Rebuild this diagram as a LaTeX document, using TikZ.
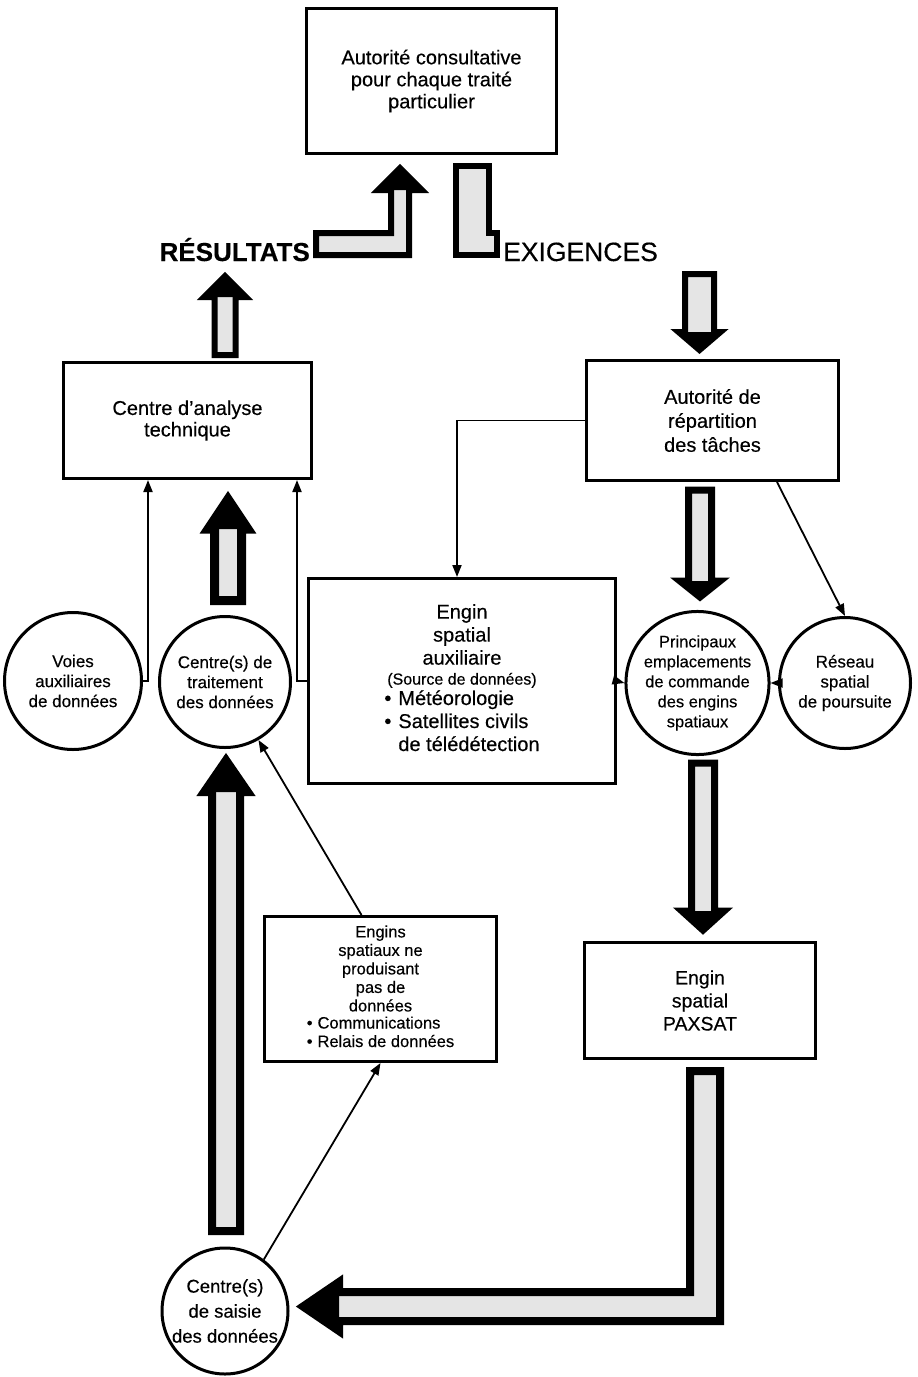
\documentclass[tikz,border=0pt]{standalone}
\usepackage{fontspec}
\setmainfont{Liberation Sans}[FakeBold=0.35]
\usetikzlibrary{arrows.meta,calc}
\tikzset{
  box/.style={draw, line width=3pt, rectangle, inner sep=0pt, align=center},
  circ/.style={draw, line width=3pt, circle, inner sep=0pt, align=center},
  conn/.style={line width=1.8pt, -{Triangle[length=12pt,width=9pt]}},
  blk/.style={draw=black, fill=black!10, line join=miter, miter limit=20},
}
% vertical block arrow: start, tip, shaft half width, head half width, head length, line width
\newcommand\blockv[6]{%
  \draw[blk, line width=#6] let \p1=(#1), \p2=(#2), \n1={ifthenelse(\y2>\y1,1,-1)} in
    ({\x1-#3},\y1) -- ({\x1-#3},{\y2-\n1*#5}) -- ({\x1-#4},{\y2-\n1*#5}) -- (\x1,\y2)
    -- ({\x1+#4},{\y2-\n1*#5}) -- ({\x1+#3},{\y2-\n1*#5}) -- ({\x1+#3},\y1) -- cycle;
  \fill let \p1=(#1), \p2=(#2), \n1={ifthenelse(\y2>\y1,1,-1)} in
    ({\x1-#4},{\y2-\n1*#5}) -- (\x1,\y2) -- ({\x1+#4},{\y2-\n1*#5}) -- cycle;}
\begin{document}
\begin{tikzpicture}[x=1pt,y=-1pt]
\useasboundingbox (0,0) rectangle (918,1377);

% boxes
\node[box, minimum width=250pt, minimum height=145pt, font=\fontsize{20}{22}\selectfont] (top) at (431.5,81) {Autorité consultative\\pour chaque traité\\particulier};
\node[box, minimum width=248pt, minimum height=116pt, font=\fontsize{20}{21.5}\selectfont] (ana) at (187.5,420.5) {Centre d’analyse\\technique};
\node[box, minimum width=252pt, minimum height=120pt, font=\fontsize{20}{24}\selectfont] (rep) at (712.5,420.5) {Autorité de\\répartition\\des tâches};
\node[box, minimum width=307pt, minimum height=205pt, font=\fontsize{20}{23}\selectfont] (eng) at (462,681)
  {Engin\\spatial\\auxiliaire\\[-3pt]{\fontsize{16}{20}\selectfont (Source de données)}\\
   \begin{tabular}{@{}l@{\hspace{7pt}}l@{}}•&Météorologie\\•&Satellites civils\\&de télédétection\end{tabular}};
\node[box, minimum width=231pt, minimum height=116pt, font=\fontsize{19.5}{23}\selectfont] (pax) at (700,1000.5) {Engin\\spatial\\PAXSAT};
\node[box, minimum width=232pt, minimum height=145pt, font=\fontsize{16.5}{18.5}\selectfont] (nop) at (380.5,989)
  {Engins\\spatiaux ne\\produisant\\pas de\\données\\[3pt]
   \begin{tabular}{@{}l@{\hspace{5pt}}l@{}}•&Communications\\•&Relais de données\end{tabular}};

% circles
\node[circ, minimum size=137pt, font=\fontsize{17}{20}\selectfont] (voies) at (73,681) {Voies\\auxiliaires\\de données};
\node[circ, minimum size=131pt, font=\fontsize{17}{20}\selectfont] (trait) at (225,682) {Centre(s) de\\traitement\\des données};
\node[circ, minimum size=129pt, font=\fontsize{16.5}{20}\selectfont] (princ) at (697.5,683) {Principaux\\emplacements\\de commande\\des engins\\spatiaux};
\node[circ, minimum size=131pt, font=\fontsize{17}{20}\selectfont] (res) at (845,683) {Réseau\\spatial\\de poursuite};
\node[circ, minimum size=126pt, font=\fontsize{18.5}{25}\selectfont] (sai) at (225,1311) {Centre(s)\\de saisie\\des données};

% labels
\node[anchor=base east, inner sep=0pt, font=\bfseries\fontsize{26}{26}\selectfont] (resu) at (310,261) {RÉSULTATS};
\node[anchor=base west, inner sep=0pt, font=\fontsize{26.5}{26}\selectfont] (exig) at (503,261) {EXIGENCES};

% L-shaped block arrows near the top
\draw[blk, line width=6pt] (316,233) -- (391,233) -- (391,190) -- (378,190) -- (400,168)
  -- (422,190) -- (409,190) -- (409,255) -- (316,255) -- cycle;
\fill (378,190) -- (400,168) -- (422,190) -- cycle;
\draw[blk, line width=6pt] (456,166) -- (489,166) -- (489,233) -- (497,233)
  -- (497,255) -- (456,255) -- cycle;

% vertical block arrows
\blockv{225,355}{225,276}{10.5}{21}{21}{6pt}
\blockv{699.5,274}{699.5,350}{14.5}{21}{18}{6pt}
\blockv{228,600.5}{228,499}{13.5}{20}{30}{9pt}
\blockv{700,490}{700,597}{11.5}{20}{16}{7pt}
\blockv{703,763}{703,930}{11.5}{21}{19}{7pt}
\blockv{226,1231}{226,760}{14}{22}{32}{8pt}

% big L arrow from PAXSAT to data capture centre
\draw[blk, line width=8pt] (690,1071) -- (720,1071) -- (720,1321) -- (339,1321) -- (339,1331)
  -- (303,1306.5) -- (339,1282) -- (339,1292) -- (690,1292) -- cycle;
\fill (339,1331) -- (303,1306.5) -- (339,1282) -- cycle;

% thin connectors
\draw[conn] (voies.east) -| ([xshift=-39.5pt]ana.south);
\draw[conn] (eng.west) -| ([xshift=109.5pt]ana.south);
\draw[conn] (rep.west) -| ([xshift=-5pt]eng.north);
\draw[conn] ([xshift=64.5pt]rep.south) -- (res.north);
\draw[conn] (res.west) -- (princ.east);
\draw[conn] (eng.east) -- (princ.west);
\draw[conn] ([xshift=-19pt]nop.north) -- (trait.-60);
\draw[conn] (sai.53) -- (nop.south);
\end{tikzpicture}
\end{document}
